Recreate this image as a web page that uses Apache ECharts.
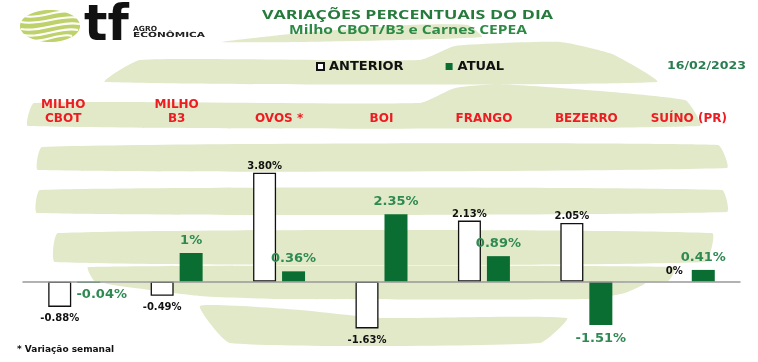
<!DOCTYPE html>
<html><head><meta charset="utf-8">
<script src="https://cdn.jsdelivr.net/npm/echarts@6/dist/echarts.min.js"></script>
<style>html,body{margin:0;padding:0;background:#fff}#c{width:758px;height:362px}</style>
</head><body><div id="c"></div>
<script>
// ---- data ----
const categories = ['MILHO\nCBOT', 'MILHO\nB3', 'OVOS *', 'BOI', 'FRANGO', 'BEZERRO', 'SUÍNO (PR)'];
const anterior = [-0.88, -0.49, 3.80, -1.63, 2.13, 2.05, 0];
const atual = [-0.04, 1, 0.36, 2.35, 0.89, -1.51, 0.41];
const seriesNames = ['ANTERIOR', 'ATUAL'];
const titleText = 'VARIAÇÕES PERCENTUAIS DO DIA';
const subtitleText = 'Milho CBOT/B3 e Carnes CEPEA';
const dateText = '16/02/2023';
const footnoteText = '* Variação semanal';

// ---- helpers ----
const ctx = document.createElement('canvas').getContext('2d');
function measure(text, font) { ctx.font = font; return ctx.measureText(text).width; }
function stretched(text, font, left, midY, targetW, fill, z) {
  const w = measure(text, font);
  return { type: 'text', x: left, y: midY, scaleX: targetW / w, z: z || 10,
    style: { text, font, fill, align: 'left', verticalAlign: 'middle' } };
}

const BAND = '#e1e9c9';
const bands = [
  [[222,42],[300,33],[410,25],[468,25],[482,37],[300,42]],
  [[105,82],[140,60],[420,60],[455,46],[560,42],[612,54],[657,82]],
  [[28,126],[34,103],[420,103],[455,88],[500,84],[685,100],[700,126]],
  [[38,170],[42,147],[718,145],[727,168]],
  [[37,213],[40,190],[722,190],[727,212]],
  [[55,262],[58,233],[712,233],[705,262]],
  [[95,281],[88,267],[675,267],[668,281]],
  [[105,283],[645,283],[625,293],[590,299],[280,299],[200,296]],
  [[200,306],[300,310],[380,318],[567,318],[540,343],[230,343]]
];
const graphics = bands.map(p => ({ type: 'polygon', z: -10, shape: { points: p, smooth: 0.15 }, style: { fill: BAND } }));

// logo
graphics.push({ type: 'ellipse', z: 5, shape: { cx: 50, cy: 26, rx: 30, ry: 16 }, style: { fill: '#bdd26a' } });
[[21,22,80,18],[21,29,80,24],[24,35,78,30],[30,40,72,36],[24,16,74,12]].forEach(([x1,y1,x2,y2]) => {
  graphics.push({ type: 'bezierCurve', z: 6, shape: { x1, y1, x2, y2, cpx1: (x1+x2)/2 - 10, cpy1: y1 + 4, cpx2: (x1+x2)/2 + 10, cpy2: y2 - 4 },
    style: { stroke: '#ffffff', lineWidth: 2, fill: null } });
});
graphics.push({ type: 'text', x: 84, y: 27, z: 10, style: { text: 'tf', font: 'bold 49px "DejaVu Sans"', fill: '#111', align: 'left', verticalAlign: 'middle' } });
graphics.push(stretched('AGRO', 'bold 7px "DejaVu Sans"', 133, 29.5, 24, '#222'));
graphics.push(stretched('ECONÔMICA', 'bold 7px "DejaVu Sans"', 133, 35.5, 72, '#222'));

// titles
graphics.push(stretched(titleText, 'bold 12px "Open Sans"', 262, 15.5, 291, '#267a3c'));
graphics.push(stretched(subtitleText, 'bold 11.5px "Open Sans"', 289, 31, 238, '#2d8a44'));
graphics.push(stretched(dateText, 'bold 11px "DejaVu Sans"', 667, 66, 79, '#2a7d4f'));
graphics.push({ type: 'text', x: 17, y: 349.5, z: 10, style: { text: footnoteText, font: 'bold 9px "DejaVu Sans"', fill: '#111', align: 'left', verticalAlign: 'middle' } });

const GREEN = '#0a6e32';
const antData = anterior.map(v => ({
  value: v,
  itemStyle: v === 0 ? { borderWidth: 0 } : undefined,
  label: { position: v < 0 ? 'bottom' : 'top', distance: v < 0 ? 7 : (v === 0 ? 5 : 1.5) }
}));
const atuData = atual.map((v, i) => ({
  value: v,
  label: Object.assign({ position: v < 0 ? 'bottom' : 'top', distance: v < 0 ? (v > -0.1 ? 5 : 7) : 6 },
    (v < 0 && v > -0.1) ? { offset: [13, 0] } : {})
}));

const catAxisData = categories.map((c, i) => i === 0 ? { value: c, textStyle: { padding: [0, 22, 0, 0] } } : c);

const chart = echarts.init(document.getElementById('c'), null, { renderer: 'canvas' });
chart.setOption({
  animation: false,
  backgroundColor: '#ffffff',
  graphic: graphics,
  legend: {
    left: 316, top: 60, padding: 0, itemWidth: 7, itemHeight: 7, itemGap: 42,
    data: seriesNames.map(n => ({ name: n, icon: 'rect' })),
    textStyle: { color: '#111', fontFamily: 'DejaVu Sans', fontWeight: 'bold', fontSize: 13 }
  },
  grid: { left: 23, right: 18, top: 167, bottom: 23 },
  xAxis: [
    { type: 'category', data: categories, axisLabel: { show: false }, axisTick: { show: false },
      axisLine: { onZero: true, lineStyle: { color: '#999', width: 1.5 } }, z: 3 },
    { type: 'category', data: catAxisData, position: 'top', offset: 41,
      axisLine: { show: false }, axisTick: { show: false },
      axisLabel: { margin: 0, color: '#ee1c22', fontFamily: 'DejaVu Sans', fontWeight: 'bold', fontSize: 12, lineHeight: 14, interval: 0 } }
  ],
  yAxis: { type: 'value', min: -2, max: 4, show: false, splitLine: { show: false } },
  series: [
    { name: seriesNames[0], type: 'bar', data: antData, barWidth: 23, barGap: '26%',
      itemStyle: { color: '#ffffff', borderColor: '#111', borderWidth: 1.3 },
      label: { show: true, color: '#111', fontFamily: 'DejaVu Sans', fontWeight: 'bold', fontSize: 10,
        formatter: p => p.value === 0 ? '0%' : p.value.toFixed(2) + '%' } },
    { name: seriesNames[1], type: 'bar', data: atuData, barWidth: 23,
      itemStyle: { color: GREEN },
      label: { show: true, color: '#2f8a52', fontFamily: 'DejaVu Sans', fontWeight: 'bold', fontSize: 13,
        formatter: p => p.value + '%' } }
  ]
});
</script></body></html>
